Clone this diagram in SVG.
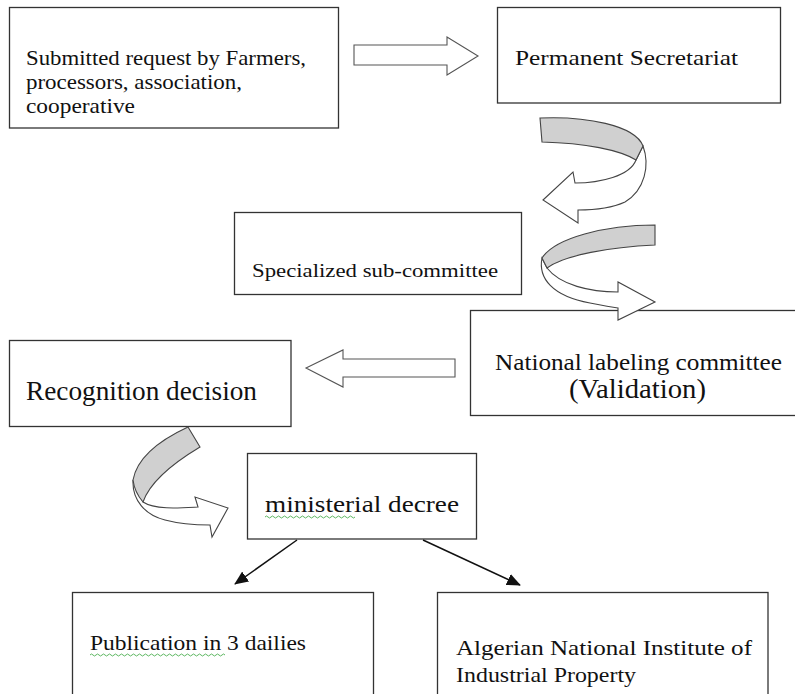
<svg xmlns="http://www.w3.org/2000/svg" width="795" height="694" viewBox="0 0 795 694">
<defs>
<style>
.box{fill:#fff;stroke:#333;stroke-width:1.3}
.t{font-family:"Liberation Serif","Times New Roman",serif;fill:#111}
.blk{fill:#fff;stroke:#555;stroke-width:1.1;stroke-linejoin:miter}
.gry{fill:#d0d0d0;stroke:#444;stroke-width:1.1}
.wht{fill:#fff;stroke:#444;stroke-width:1.1}
.ln{stroke:#111;stroke-width:1.5;fill:none}
.sq{stroke:#4caf50;stroke-width:0.9;fill:none}
</style>
<marker id="ah" markerWidth="14" markerHeight="12" refX="13" refY="6" orient="auto" markerUnits="userSpaceOnUse">
<path d="M0,0 L14,6 L0,12 Z" fill="#111"/>
</marker>
</defs>
<rect width="795" height="694" fill="#fff"/>

<g id="n1">
<rect class="box" x="9.5" y="7.5" width="329" height="120.5"/>
<text class="t" font-size="21" x="26" y="65" textLength="280" lengthAdjust="spacingAndGlyphs">Submitted request by Farmers,</text>
<text class="t" font-size="21" x="26" y="89" textLength="216" lengthAdjust="spacingAndGlyphs">processors, association,</text>
<text class="t" font-size="21" x="26" y="113" textLength="109" lengthAdjust="spacingAndGlyphs">cooperative</text>
</g>

<g id="n2">
<rect class="box" x="497.5" y="7.5" width="283" height="95.5"/>
<text class="t" font-size="22" x="515" y="65" textLength="223" lengthAdjust="spacingAndGlyphs">Permanent Secretariat</text>
</g>

<g id="n3">
<rect class="box" x="234.5" y="212.5" width="287" height="82"/>
<text class="t" font-size="19" x="252" y="277" textLength="246" lengthAdjust="spacingAndGlyphs">Specialized sub-committee</text>
</g>

<g id="n4">
<rect class="box" x="470.5" y="310.5" width="330" height="105"/>
<text class="t" font-size="24" x="495" y="370" textLength="287" lengthAdjust="spacingAndGlyphs">National labeling committee</text>
<text class="t" font-size="28" x="569" y="398" textLength="137" lengthAdjust="spacingAndGlyphs">(Validation)</text>
</g>

<g id="n5">
<rect class="box" x="9.5" y="340.5" width="281.5" height="86"/>
<text class="t" font-size="27" x="26" y="400" textLength="231" lengthAdjust="spacingAndGlyphs">Recognition decision</text>
</g>

<g id="n6">
<rect class="box" x="247.5" y="453.5" width="229" height="85.5"/>
<text class="t" font-size="24" x="265" y="512" textLength="194" lengthAdjust="spacingAndGlyphs">ministerial decree</text>
<path class="sq" d="M265,517 q1.5,-2 3,0 t3,0 t3,0 t3,0 t3,0 t3,0 t3,0 t3,0 t3,0 t3,0 t3,0 t3,0 t3,0 t3,0 t3,0 t3,0 t3,0 t3,0 t3,0 t3,0 t3,0 t3,0 t3,0 t3,0 t3,0 t3,0 t3,0 t3,0 t3,0 t3,0"/>
</g>

<g id="n7">
<rect class="box" x="72.5" y="592.5" width="301" height="110"/>
<text class="t" font-size="21" x="90" y="650" textLength="216" lengthAdjust="spacingAndGlyphs">Publication  in 3 dailies</text>
<path class="sq" d="M90,655 q1.5,-2 3,0 t3,0 t3,0 t3,0 t3,0 t3,0 t3,0 t3,0 t3,0 t3,0 t3,0 t3,0 t3,0 t3,0 t3,0 t3,0 t3,0 t3,0 t3,0 t3,0 t3,0 t3,0 t3,0 t3,0 t3,0 t3,0 t3,0 t3,0 t3,0 t3,0 t3,0 t3,0 t3,0 t3,0 t3,0 t3,0 t3,0 t3,0 t3,0 t3,0 t3,0 t3,0 t3,0 t3,0 t3,0"/>
</g>

<g id="n8">
<rect class="box" x="437.5" y="592.5" width="330.5" height="110"/>
<text class="t" font-size="22" x="456" y="655" textLength="296" lengthAdjust="spacingAndGlyphs">Algerian National Institute of</text>
<text class="t" font-size="22" x="456" y="682" textLength="180" lengthAdjust="spacingAndGlyphs">Industrial Property</text>
</g>

<g id="connectors">
<path class="blk" d="M354,45 L447,45 L447,37 L478,56 L447,75 L447,65 L354,65 Z"/>
<path class="blk" d="M455,359 L343,359 L343,350 L306,368 L343,387 L343,377 L455,377 Z"/>

<g id="curve1">
<path class="wht" d="M643,146 C650,165 645,190 625,202 C612,208 595,210 578,210 L578,223 L543,200 L573,172 L575,183 C600,183 630,176 636,160 Z"/>
<path class="gry" d="M540,118 C585,116 635,125 643,146 L636,160 C620,150 585,143 542,142 Z"/>
</g>

<g id="curve2">
<path class="wht" d="M542,258 C538,278 552,296 590,303 C600,305 610,307 618,308 L618,320 L655,302 L618,282 L618,292 C590,292 560,285 547,268 Z"/>
<path class="gry" d="M655,225 L655,245 C610,247 565,255 547,268 L542,258 C555,238 605,225 655,225 Z"/>
</g>

<g id="curve3">
<path class="wht" d="M133,480 C132,500 145,515 165,520 C180,524 195,525 210,525 L212,537 L228,508 L195,497 L198,507 C180,508 155,510 143,502 Z"/>
<path class="gry" d="M188,427 L200,447 C175,462 150,482 143,502 C137,495 134,488 133,480 C137,458 160,440 188,427 Z"/>
</g>

<line class="ln" x1="297" y1="540" x2="235" y2="584" marker-end="url(#ah)"/>
<line class="ln" x1="423" y1="540" x2="520" y2="585" marker-end="url(#ah)"/>
</g>
</svg>
